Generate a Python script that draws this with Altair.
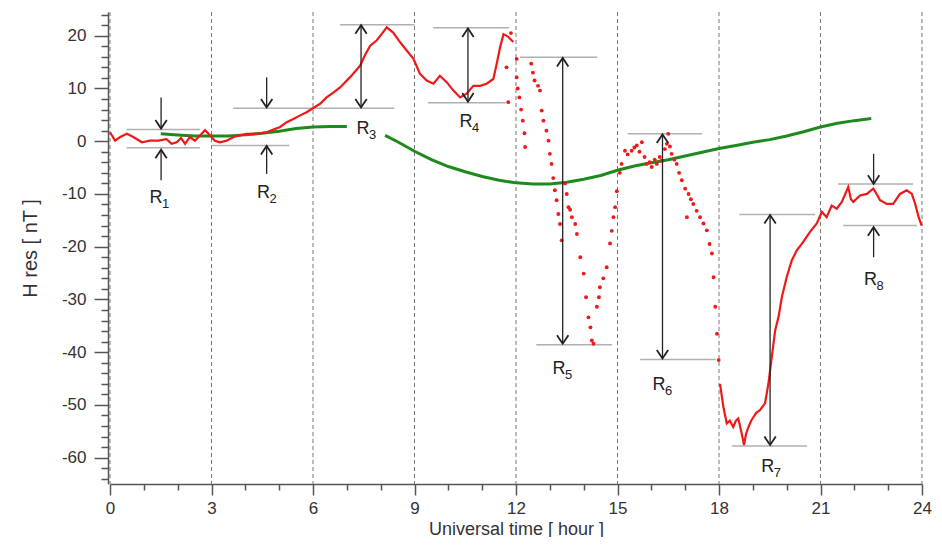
import altair as alt
import pandas as pd

# ---------------- data ----------------
# red residual H, continuous part before the storm
red_a_hours = [0.00, 0.15, 0.30, 0.50, 0.69, 0.94, 1.18, 1.43, 1.67, 1.82, 1.97, 2.10, 2.22, 2.36,
               2.51, 2.66, 2.81, 2.96, 3.10, 3.25, 3.45, 3.65, 3.84, 4.04, 4.24, 4.43, 4.63, 4.83,
               5.03, 5.22, 5.42, 5.62, 5.81, 6.01, 6.21, 6.40, 6.60, 6.80, 7.09, 7.39, 7.55, 7.69,
               7.88, 8.05, 8.18, 8.37, 8.57, 8.77, 8.97, 9.16, 9.36, 9.56, 9.75, 9.95, 10.15, 10.35,
               10.54, 10.74, 10.94, 11.13, 11.33, 11.43, 11.53, 11.63, 11.77, 11.92]
red_a_values = [1.7, 0.1, 0.8, 1.4, 0.8, -0.2, 0.1, 0.1, 0.4, -0.5, -0.2, 0.6, -0.5, 0.8,
                0.1, 1.1, 2.1, 1.1, 0.1, -0.2, 0.1, 0.8, 1.1, 1.4, 1.4, 1.5, 1.7, 2.2,
                2.7, 3.6, 4.2, 4.9, 5.5, 6.3, 7.1, 8.3, 9.2, 10.2, 12.1, 14.3, 16.5, 18.1,
                19.1, 20.5, 21.6, 20.6, 18.8, 17.2, 15.6, 12.8, 11.5, 10.9, 12.4, 11.2, 9.6, 8.3,
                9.0, 10.5, 10.5, 10.9, 11.8, 14.7, 17.8, 20.3, 19.8, 18.8]

# red residual H, scattered dots during the storm
red_b_hours = [11.72, 11.77, 11.85, 12.02, 12.02, 12.05, 12.10, 12.15, 12.20, 12.25, 12.27, 12.45,
               12.50, 12.55, 12.65, 12.71, 12.76, 12.81, 12.90, 12.96, 13.00, 13.05, 13.10, 13.15,
               13.20, 13.25, 13.30, 13.35, 13.45, 13.50, 13.55, 13.60, 13.65, 13.75, 13.80, 13.90,
               14.00, 14.07, 14.14, 14.20, 14.24, 14.29, 14.39, 14.45, 14.48, 14.58, 14.68, 14.78,
               14.83, 14.88, 14.93, 14.98, 15.07, 15.12, 15.22, 15.30, 15.42, 15.50, 15.57, 15.65,
               15.72, 15.80, 15.86, 15.95, 16.01, 16.10, 16.16, 16.25, 16.31, 16.40, 16.46, 16.50,
               16.55, 16.60, 16.68, 16.75, 16.82, 16.90, 17.00, 17.05, 17.10, 17.17, 17.24, 17.34,
               17.44, 17.54, 17.64, 17.72, 17.79, 17.84, 17.89, 17.94, 17.99]
red_b_values = [14.0, 7.4, 20.5, 15.6, 12.1, 10.0, 8.3, 6.0, 3.9, 1.5, -1.1, 14.7,
                13.0, 11.5, 10.5, 9.6, 5.8, 3.9, 2.0, 0.1, -2.4, -4.3, -7.0, -9.3,
                -11.2, -13.8, -15.7, -18.8, -8.0, -10.0, -12.5, -13.0, -14.4, -15.7, -17.6, -22.0,
                -25.1, -29.6, -33.4, -35.3, -37.8, -38.4, -31.4, -29.6, -27.7, -26.0, -23.9, -19.4,
                -17.0, -14.4, -12.5, -9.5, -6.0, -4.3, -1.8, -2.5, -1.8, -1.2, -0.8, -2.0,
                -0.2, -3.0, -4.3, -4.0, -4.9, -3.5, -4.3, -3.0, -3.7, -1.5, -0.5, 1.4,
                -1.0, -2.4, -3.5, -4.3, -6.0, -7.4, -9.0, -14.4, -10.0, -11.0, -11.9, -13.2,
                -14.4, -15.6, -16.9, -19.5, -21.3, -25.8, -31.4, -36.5, -41.5]

# red residual H, main phase and recovery
red_c_hours = [18.03, 18.13, 18.23, 18.32, 18.42, 18.50, 18.57, 18.67, 18.74, 18.80, 18.87, 18.95,
               19.02, 19.10, 19.21, 19.36, 19.46, 19.56, 19.66, 19.76, 19.86, 20.00, 20.15, 20.30,
               20.49, 20.69, 20.89, 21.04, 21.18, 21.33, 21.48, 21.63, 21.82, 21.90, 21.97, 22.17,
               22.37, 22.56, 22.66, 22.76, 22.96, 23.15, 23.35, 23.55, 23.70, 23.80, 23.90, 23.99]
red_c_values = [-46.0, -50.4, -53.5, -53.0, -54.2, -53.0, -52.6, -55.4, -57.6, -55.5, -54.2, -53.0,
                -52.3, -51.5, -51.0, -49.7, -46.0, -40.9, -35.9, -33.3, -29.5, -25.8, -22.6, -20.7,
                -19.1, -17.2, -15.6, -13.4, -14.4, -12.2, -12.8, -11.5, -8.7, -11.0, -11.5, -10.3,
                -10.0, -9.0, -10.0, -11.2, -11.9, -11.9, -10.0, -9.3, -10.0, -11.9, -14.4, -16.0]

# green quiet-day curve (two pieces, gap at the R3 label)
green_hours = [1.5, 2.0, 2.5, 3.0, 3.5, 4.0, 4.5, 5.0, 5.5, 6.0, 6.5, 7.0,
               8.13, 8.5, 9.0, 9.5, 10.0, 10.5, 11.0, 11.5, 12.0, 12.5, 13.0, 13.5, 14.0, 14.5,
               15.0, 15.5, 16.0, 16.5, 17.0, 17.5, 18.0, 18.5, 19.0, 19.5, 20.0, 20.5, 21.0,
               21.5, 22.0, 22.5]
green_values = [1.4, 1.2, 1.0, 1.0, 1.0, 1.2, 1.5, 1.9, 2.4, 2.7, 2.8, 2.8,
                1.1, -0.1, -1.9, -3.5, -4.8, -5.8, -6.7, -7.4, -7.9, -8.1, -8.1, -7.8, -7.2, -6.5,
                -5.5, -4.7, -4.1, -3.5, -2.8, -2.1, -1.4, -0.8, -0.2, 0.3, 1.0, 1.8, 2.7,
                3.4, 3.9, 4.3]
green_segment = [1] * 12 + [2] * 30

# grey reference levels (start hour, end hour, level)
level_start = [0.49, 0.49, 3.0, 3.64, 6.8, 9.55, 9.4, 12.12, 12.6, 15.3, 15.67, 18.6, 18.38, 21.52, 21.67]
level_end = [2.66, 2.66, 5.3, 8.4, 9.0, 11.8, 11.7, 14.4, 14.84, 17.5, 17.9, 20.84, 20.6, 23.74, 23.85]
level_value = [2.2, -1.25, -0.8, 6.25, 22.1, 21.5, 7.3, 15.9, -38.6, 1.4, -41.4, -13.9, -57.8, -8.1, -16.0]

# arrow shafts (hour, from, to)
shaft_hour = [1.51, 1.51, 4.63, 4.63, 7.42, 10.58, 13.38, 16.33, 19.51, 22.57, 22.57]
shaft_from = [8.3, -7.4, 12.1, -6.2, 6.4, 7.5, -38.4, -41.2, -57.6, -2.4, -22.0]
shaft_to = [2.4, -1.6, 6.4, -0.9, 22.0, 21.4, 15.8, 1.3, -14.0, -8.1, -16.3]

# arrow heads
head_up_hour = [1.51, 4.63, 7.42, 10.58, 13.38, 16.33, 19.51, 22.57]
head_up_value = [-1.6, -0.9, 22.0, 21.4, 15.8, 1.3, -14.0, -16.3]
head_down_hour = [1.51, 4.63, 7.42, 10.58, 13.38, 16.33, 19.51, 22.57]
head_down_value = [2.4, 6.4, 6.4, 7.5, -38.4, -41.2, -57.6, -8.1]

# labels R1..R8
label_hour = [1.36, 4.54, 7.48, 10.52, 13.27, 16.23, 19.44, 22.48]
label_value = [-10.7, -9.9, 2.4, 3.6, -43.1, -46.3, -61.8, -26.4]
label_index = ["1", "2", "3", "4", "5", "6", "7", "8"]

grid_hours = [0, 3, 6, 9, 12, 15, 18, 21, 24]

# ---------------- tables ----------------
df_a = pd.DataFrame({"h": red_a_hours, "v": red_a_values, "seg": "a"})
df_c = pd.DataFrame({"h": red_c_hours, "v": red_c_values, "seg": "c"})
df_red_line = pd.concat([df_a, df_c], ignore_index=True)
df_red_pts = pd.DataFrame({"h": red_b_hours, "v": red_b_values})
df_green = pd.DataFrame({"h": green_hours, "v": green_values, "seg": green_segment})
df_levels = pd.DataFrame({"h": level_start, "h2": level_end, "v": level_value})
df_shafts = pd.DataFrame({"h": shaft_hour, "v": shaft_from, "v2": shaft_to})
df_up = pd.DataFrame({"h": head_up_hour, "v": head_up_value})
df_down = pd.DataFrame({"h": head_down_hour, "v": head_down_value})
df_labels = pd.DataFrame({"h": label_hour, "v": label_value, "R": "R", "n": label_index})
df_grid = pd.DataFrame({"h": grid_hours})

FONT = "Liberation Sans"

xscale = alt.Scale(domain=[0, 24], nice=False, zero=False)
yscale = alt.Scale(domain=[-65, 24.5], nice=False, zero=False)

xaxis = alt.Axis(
    values=list(range(0, 25)),
    labelExpr="datum.value % 3 === 0 ? '' + datum.value : ''",
    tickSize={"condition": {"test": "datum.value % 3 === 0", "value": 11}, "value": 6},
    tickColor="#555", tickWidth=1.5, domainColor="#555", domainWidth=1.5,
    labelFontSize=17, labelColor="#333", labelFont=FONT, labelPadding=5,
    title="Universal time  [ hour ]", titleFontSize=18, titleFont=FONT,
    titleFontWeight="normal", titleColor="#333", titleY=50, titleBaseline="alphabetic",
    grid=False, labelFlush=False,
)
yaxis = alt.Axis(
    values=list(range(-64, 25, 2)),
    labelExpr="datum.value % 10 === 0 ? '' + datum.value : ''",
    tickSize={"condition": {"test": "datum.value % 10 === 0", "value": 14}, "value": 7},
    tickColor="#555", tickWidth=1.5, domainColor="#555", domainWidth=1.5,
    labelFontSize=17, labelColor="#333", labelFont=FONT, labelPadding=8, offset=2,
    title="H res  [ nT ]", titleFontSize=20, titleFont=FONT, titleFontWeight="normal",
    titleColor="#333", titlePadding=21, grid=False, labelFlush=False,
)

X = alt.X("h:Q", scale=xscale, axis=xaxis)
Y = alt.Y("v:Q", scale=yscale, axis=yaxis)

grid = alt.Chart(df_grid).mark_rule(color="#777", strokeWidth=1, strokeDash=[4, 3]).encode(x=X)

levels = alt.Chart(df_levels).mark_rule(color="#b0b0b0", strokeWidth=1.5).encode(
    x=X, x2="h2:Q", y=Y)

green = alt.Chart(df_green).mark_line(color="#1e8a1e", strokeWidth=3).encode(
    x=X, y=Y, detail="seg:N")

red_line = alt.Chart(df_red_line).mark_line(color="#f01818", strokeWidth=2.2).encode(
    x=X, y=Y, detail="seg:N")

red_pts = alt.Chart(df_red_pts).mark_circle(color="#f01818", size=15, opacity=1).encode(
    x=X, y=Y)

shafts = alt.Chart(df_shafts).mark_rule(color="#222", strokeWidth=1.3).encode(
    x=X, y=Y, y2="v2:Q")

up_heads = alt.Chart(df_up).mark_point(
    shape="M-1,1.5L0,0L1,1.5", size=130, filled=False, color="#222", strokeWidth=1.8,
    opacity=1).encode(x=X, y=Y)
down_heads = alt.Chart(df_down).mark_point(
    shape="M-1,-1.5L0,0L1,-1.5", size=130, filled=False, color="#222", strokeWidth=1.8,
    opacity=1).encode(x=X, y=Y)

r_text = alt.Chart(df_labels).mark_text(
    font=FONT, fontSize=18, color="#222", align="center", baseline="middle").encode(
    x=X, y=Y, text="R:N")
n_text = alt.Chart(df_labels).mark_text(
    font=FONT, fontSize=13, color="#222", align="left", baseline="middle", dx=6, dy=6).encode(
    x=X, y=Y, text="n:N")

chart = alt.layer(
    grid, levels, green, red_line, red_pts, shafts, up_heads, down_heads, r_text, n_text
).properties(
    width=812, height=472,
    autosize=alt.AutoSizeParams(type="none"),
    padding={"left": 102, "top": 4, "right": 12, "bottom": 53},
    background="white",
).configure_view(stroke=None)

chart.save("out.html", embed_options={"renderer": "svg", "actions": False})
